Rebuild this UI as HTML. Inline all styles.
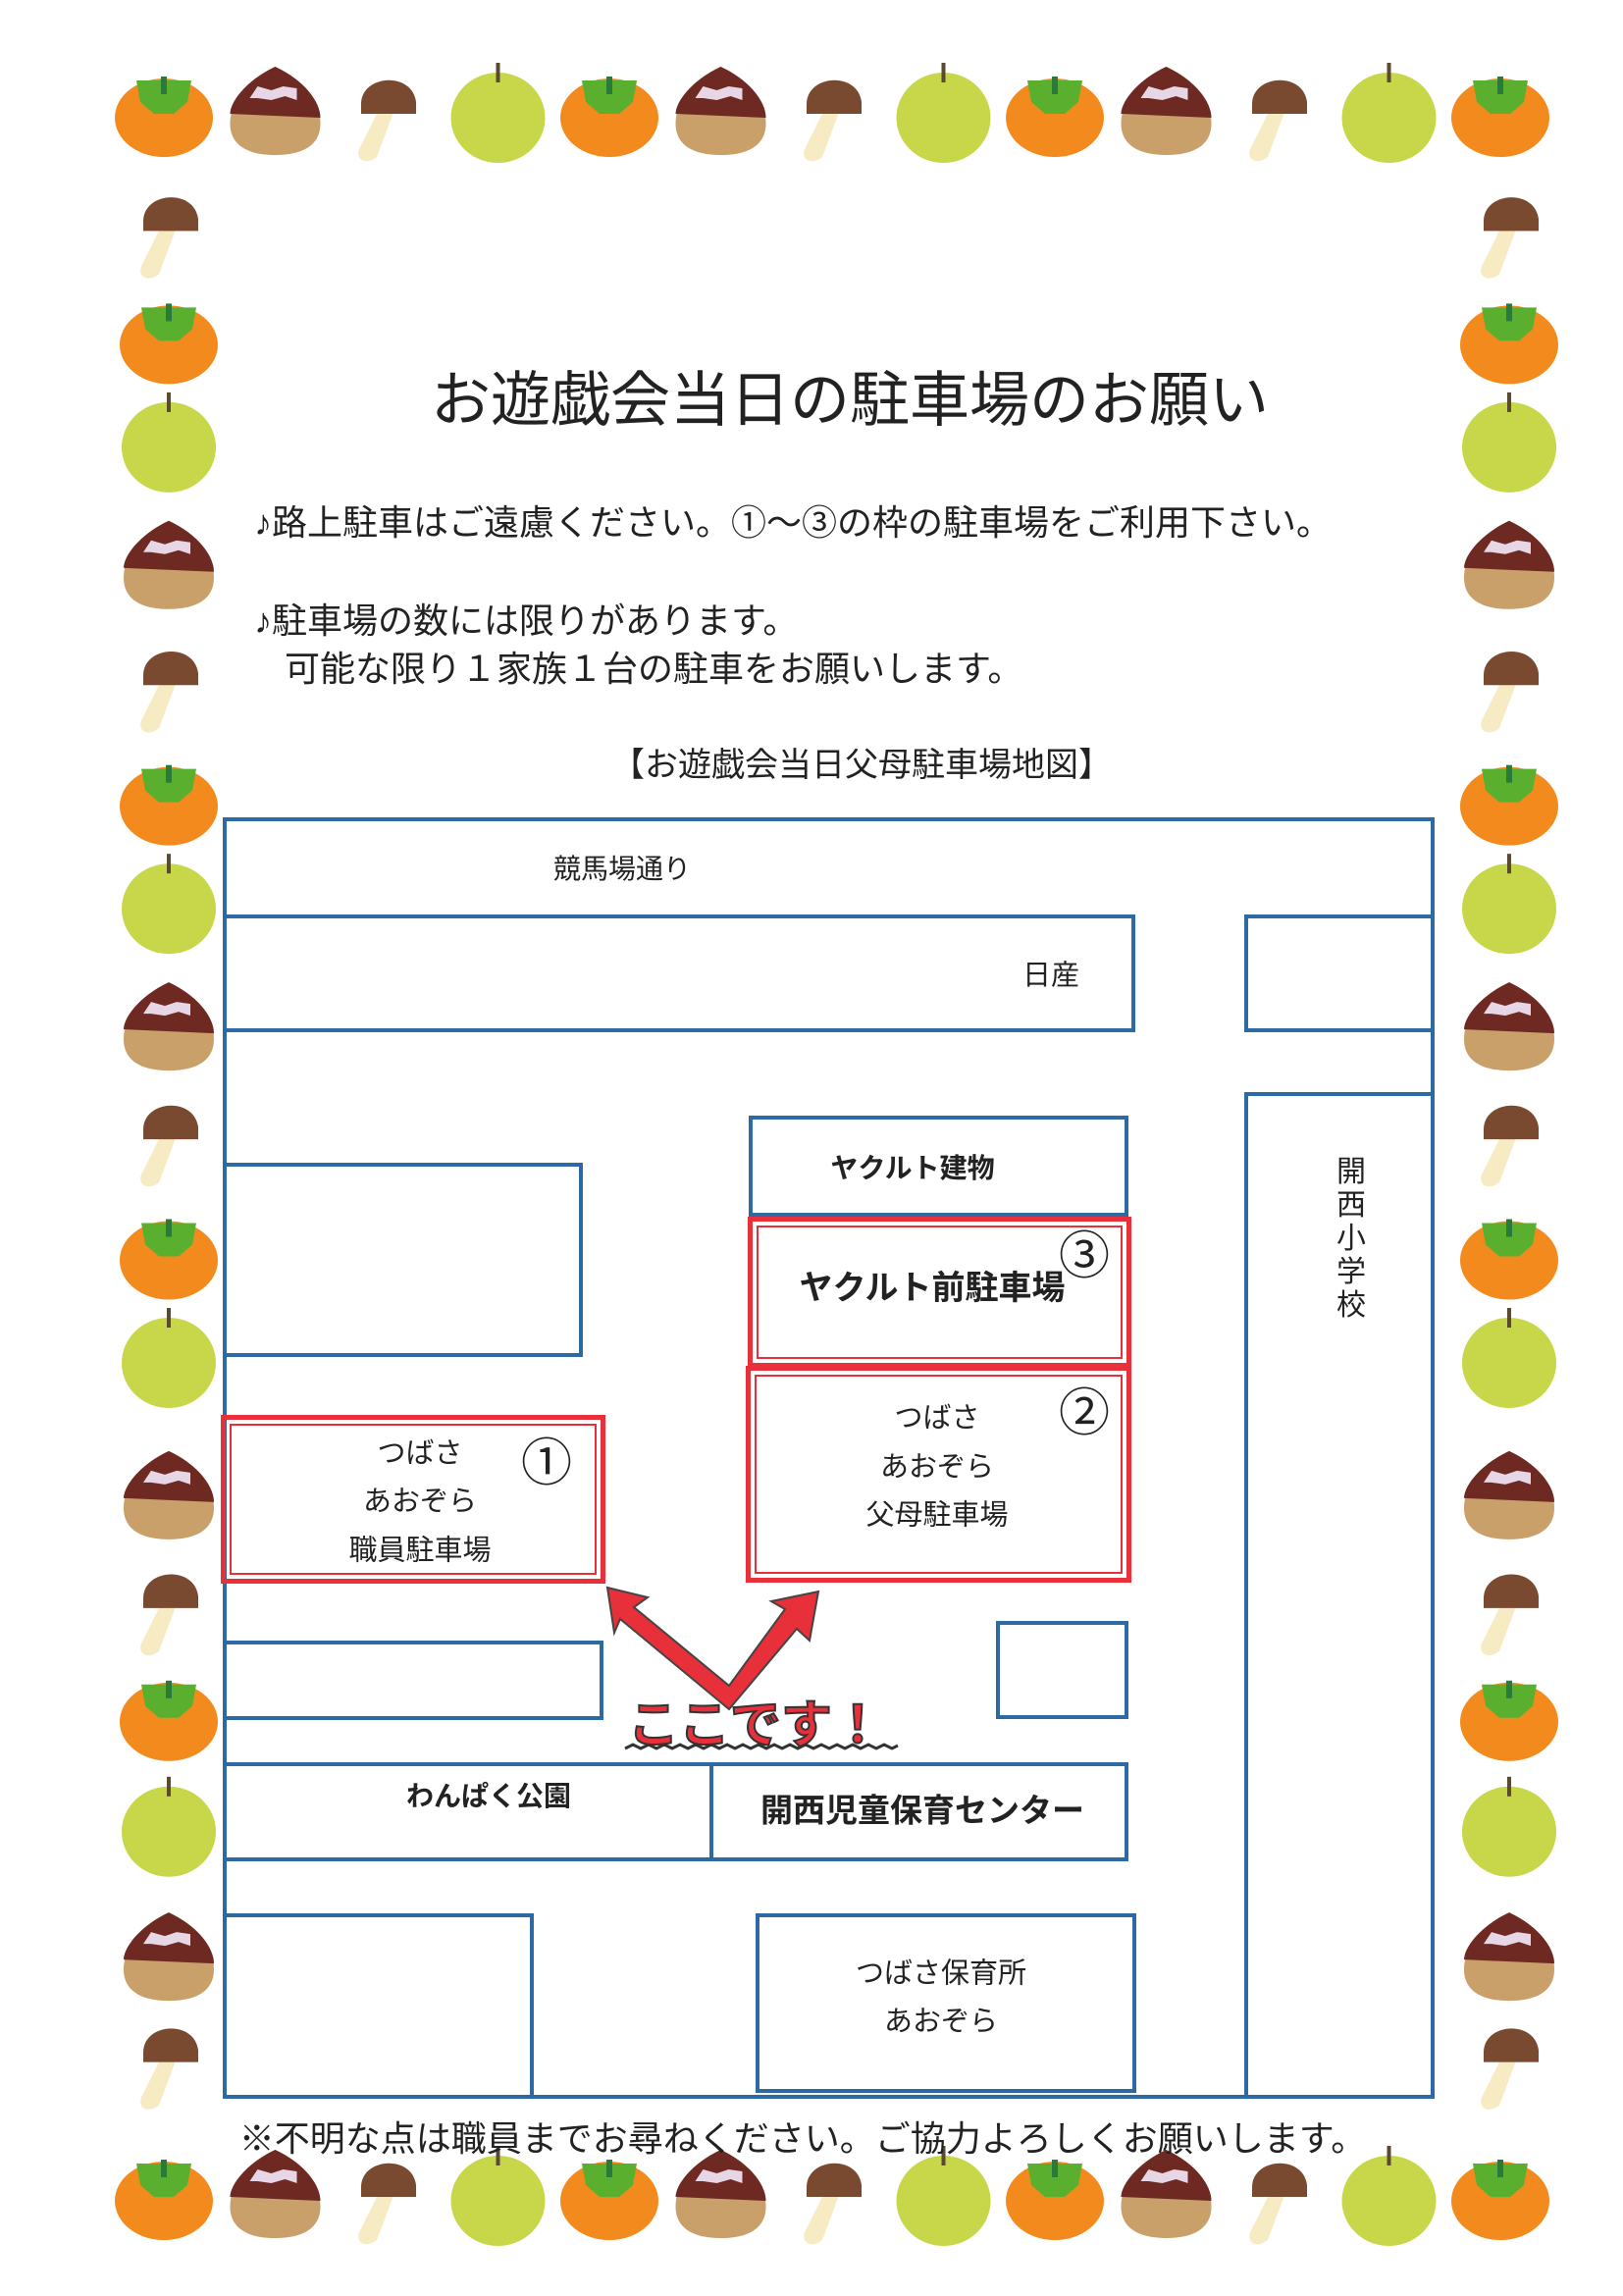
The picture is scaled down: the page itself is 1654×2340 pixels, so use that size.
<!DOCTYPE html>
<html><head><meta charset="utf-8"><style>
html,body{margin:0;padding:0;background:#fff}
body{width:1654px;height:2340px;position:relative;overflow:hidden;font-family:"Liberation Sans","Noto Sans CJK JP",sans-serif;color:#222}
.t{position:absolute;white-space:nowrap;line-height:1}
.b{position:absolute;border:4px solid #2d6aa3;box-sizing:border-box}
.r{position:absolute;border:5px solid #e8303a;box-sizing:border-box;outline:2px solid #e8303a;outline-offset:-11px}
.c{transform:translate(-50%,-50%)}
</style></head><body>
<svg id="fr" width="1654" height="2340" style="position:absolute;left:0;top:0">
<defs>
<g id="pe"><ellipse cx="0" cy="8" rx="50" ry="40" fill="#f38a1e"/><path d="M-28,-30 L28,-30 L24,-8 L10,4 L-10,4 L-24,-8Z" fill="#5ab02e"/><rect x="-3" y="-34" width="6" height="18" fill="#2a7a3a"/></g>
<g id="ch"><path d="M0,-44 C30,-30 46,-8 46,14 C46,36 28,46 0,46 C-28,46 -46,36 -46,14 C-46,-8 -30,-30 0,-44Z" fill="#c9a06a"/><path d="M0,-44 C30,-30 46,-8 46,8 L-46,4 C-46,-8 -30,-30 0,-44Z" fill="#6e2a22"/><path d="M-26,-12 L-18,-24 L-4,-20 L8,-24 L22,-22 L22,-10 L10,-14 L-4,-10 L-18,-12Z" fill="#e6d6e6"/></g>
<g id="mu"><path d="M-8,0 L8,0 L-10,48 C-20,56 -32,52 -28,40Z" fill="#f6ebc2"/><path d="M-26,-6 C-26,-36 26,-40 30,-8 L30,4 L-26,4Z" fill="#7a4a30"/></g>
<g id="pr"><ellipse cx="0" cy="8" rx="48" ry="46" fill="#c8d64a"/><rect x="-2" y="-48" width="4" height="20" fill="#5a4a30"/></g>
</defs><g id="items"></g></svg>
<script>
(function(){var g=document.getElementById('items'),s='';
function u(id,x,y){s+='<use href="#'+id+'" x="'+x+'" y="'+y+'"/>';}
var row=['pe','ch','mu','pr'];
for(var i=0;i<13;i++){var x=167+i*113.5;u(row[i%4],x,112);u(row[i%4],x,2235);}
var col=['mu','pe','pr','ch'];
var ys=[155,230,300,385,465,545,615,700,775,855,925,1020,1095,1170,1245,1335,1405];
for(var j=0;j<ys.length;j++){var y=ys[j]*1.493;u(col[j%4],172,y);u(col[j%4],1538,y);}
g.innerHTML=s;})();
</script>

<div class="t c" style="left:866px;top:408px;font-size:61px">お遊戯会当日の駐車場のお願い</div>
<div class="t" style="left:259px;top:515px;font-size:36px">♪路上駐車はご遠慮ください。①～③の枠の駐車場をご利用下さい。</div>
<div class="t" style="left:259px;top:615px;font-size:36px">♪駐車場の数には限りがあります。</div>
<div class="t" style="left:290px;top:664px;font-size:36px">可能な限り１家族１台の駐車をお願いします。</div>
<div class="t c" style="left:878px;top:780px;font-size:34px">【お遊戯会当日父母駐車場地図】</div>

<div class="b" style="left:227px;top:833px;width:1235px;height:1306px"></div>
<div class="b" style="left:227px;top:932px;width:930px;height:120px"></div>
<div class="b" style="left:1268px;top:932px;width:194px;height:120px"></div>
<div class="b" style="left:1268px;top:1113px;width:194px;height:1026px"></div>
<div class="b" style="left:227px;top:1185px;width:367px;height:198px"></div>
<div class="b" style="left:763px;top:1137px;width:387px;height:103px"></div>
<div class="b" style="left:227px;top:1672px;width:388px;height:81px"></div>
<div class="b" style="left:1015px;top:1652px;width:135px;height:100px"></div>
<div class="b" style="left:227px;top:1796px;width:923px;height:101px"></div>
<div class="b" style="left:723px;top:1796px;width:4px;height:101px;border-width:0 0 0 4px"></div>
<div class="b" style="left:227px;top:1950px;width:317px;height:189px"></div>
<div class="b" style="left:770px;top:1950px;width:388px;height:183px"></div>

<div class="r" style="left:762px;top:1240px;width:391px;height:154px"></div>
<div class="r" style="left:760px;top:1392px;width:393px;height:221px"></div>
<div class="r" style="left:225px;top:1442px;width:392px;height:172px"></div>

<div class="t c" style="left:634px;top:886px;font-size:28px">競馬場通り</div>
<div class="t c" style="left:1071px;top:995px;font-size:29px">日産</div>
<div class="t c" style="left:930px;top:1191px;font-size:28px;font-weight:bold">ヤクルト建物</div>
<div class="t c" style="left:950px;top:1313px;font-size:34px;font-weight:bold">ヤクルト前駐車場</div>
<div class="t c" style="left:1105px;top:1281px;font-size:52px">③</div>
<div class="t c" style="left:1105px;top:1441px;font-size:52px">②</div>
<div class="t c" style="left:557px;top:1492px;font-size:52px">①</div>
<div class="t c" style="left:955px;top:1446px;font-size:29px">つばさ</div>
<div class="t c" style="left:955px;top:1496px;font-size:29px">あおぞら</div>
<div class="t c" style="left:955px;top:1545px;font-size:29px">父母駐車場</div>
<div class="t c" style="left:428px;top:1482px;font-size:29px">つばさ</div>
<div class="t c" style="left:428px;top:1531px;font-size:29px">あおぞら</div>
<div class="t c" style="left:428px;top:1581px;font-size:29px">職員駐車場</div>
<div class="t c" style="left:498px;top:1831px;font-size:28px;font-weight:bold">わんぱく公園</div>
<div class="t c" style="left:940px;top:1845px;font-size:33px;font-weight:bold">開西児童保育センター</div>
<div class="t c" style="left:959px;top:2012px;font-size:29px">つばさ保育所</div>
<div class="t c" style="left:959px;top:2061px;font-size:29px">あおぞら</div>
<div class="t" style="left:1362px;top:1178px;font-size:30px;width:32px;line-height:34px;white-space:normal">開西小学校</div>

<svg width="1654" height="2340" style="position:absolute;left:0;top:0">
<path d="M619,1618 L660,1628 L646,1638 L743,1718 L800,1640 L786,1632 L834,1622 L825,1672 L812,1660 L743,1742 L632,1650 L626,1664Z" fill="#e8303a" stroke="#444" stroke-width="2"/>
<polyline points="637,1782 645,1778 653,1782 661,1778 669,1782 677,1778 685,1782 693,1778 701,1782 709,1778 717,1782 725,1778 733,1782 741,1778 749,1782 757,1778 765,1782 773,1778 781,1782 789,1778 797,1782 805,1778 813,1782 821,1778 829,1782 837,1778 845,1782 853,1778 861,1782 869,1778 877,1782 885,1778 893,1782 901,1778 909,1782 915,1779" fill="none" stroke="#333" stroke-width="3"/>
<text x="640" y="1776" font-size="52" font-weight="bold" fill="#e8303a" stroke="#333" stroke-width="2" font-family="Liberation Sans, Noto Sans CJK JP, sans-serif">ここです！</text>
</svg>

<div class="t c" style="left:818px;top:2180px;font-size:36px">※不明な点は職員までお尋ねください。ご協力よろしくお願いします。</div>
</body></html>
